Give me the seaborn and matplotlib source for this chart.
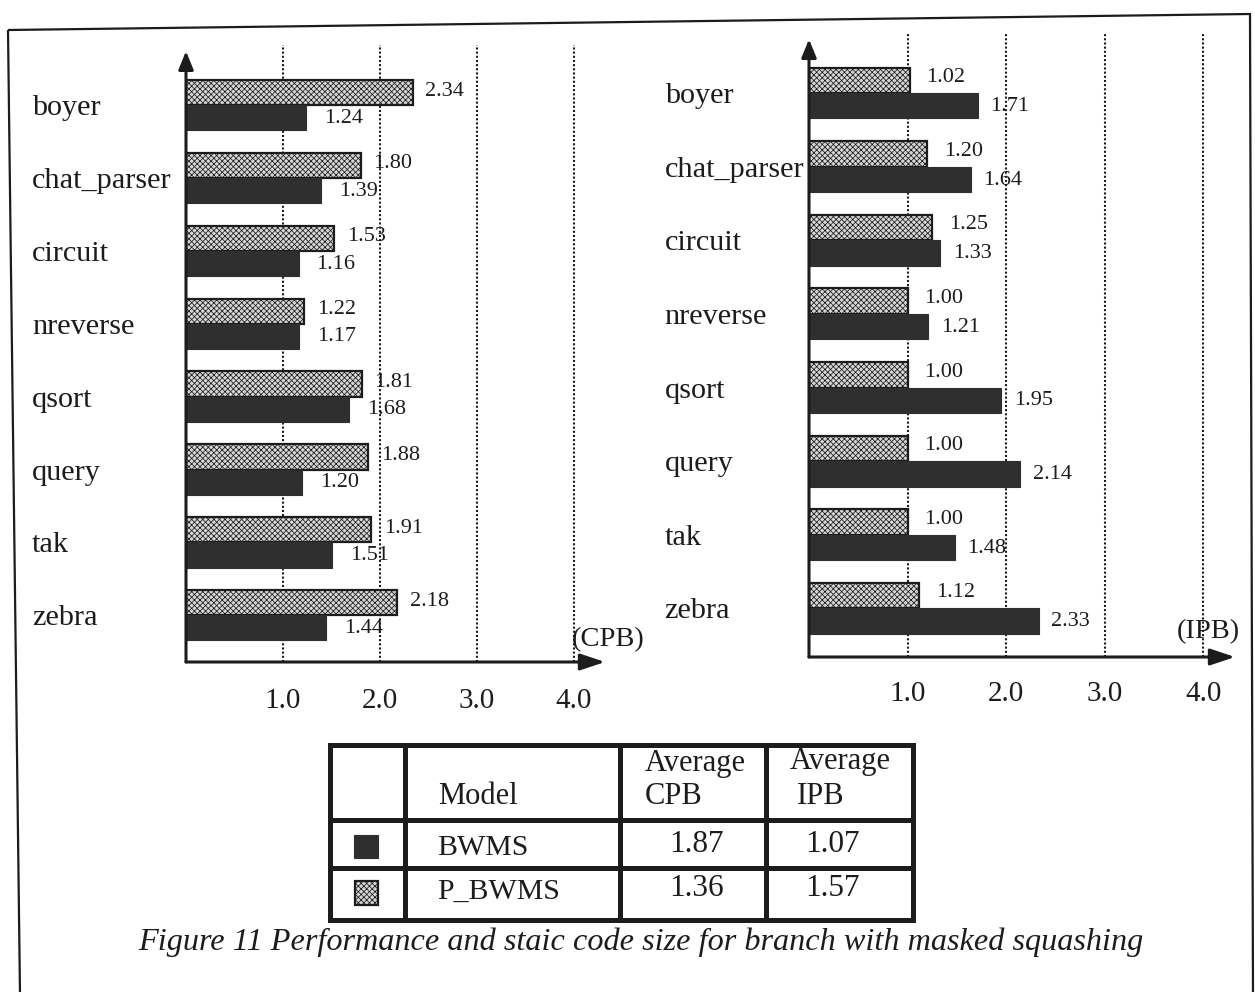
import matplotlib
matplotlib.use("Agg")
import matplotlib.pyplot as plt
from matplotlib.patches import Rectangle, Polygon
import pandas as pd
import seaborn as sns

# ---- data -------------------------------------------------------------
benchmarks = ["boyer", "chat_parser", "circuit", "nreverse",
              "qsort", "query", "tak", "zebra"]
cpb_p_bwms = [2.34, 1.80, 1.53, 1.22, 1.81, 1.88, 1.91, 2.18]
cpb_bwms = [1.24, 1.39, 1.16, 1.17, 1.68, 1.20, 1.51, 1.44]
ipb_p_bwms = [1.02, 1.20, 1.25, 1.00, 1.00, 1.00, 1.00, 1.12]
ipb_bwms = [1.71, 1.64, 1.33, 1.21, 1.95, 2.14, 1.48, 2.33]
tick_values = [1.0, 2.0, 3.0, 4.0]
tick_labels = ["1.0", "2.0", "3.0", "4.0"]
models = ["BWMS", "P_BWMS"]
avg_cpb = ["1.87", "1.36"]
avg_ipb = ["1.07", "1.57"]
caption = "Figure 11 Performance and staic code size for branch with masked squashing"

# ---- style ------------------------------------------------------------
sns.set_theme(style="white")
plt.rcParams["font.family"] = ["Liberation Serif", "DejaVu Serif"]
plt.rcParams["hatch.linewidth"] = 0.55
plt.rcParams["hatch.color"] = "#444444"

DARK = "#2f2f2f"
LIGHT = "#d6d6d6"
INK = "#1c1c1c"
HATCH = "xxxxxx"

W, H = 1255, 992
fig = plt.figure(figsize=(W / 100, H / 100), dpi=100)
fig.patch.set_facecolor("white")


def px_axes(x0, y0, x1, y1):
    """Axes placed by pixel box (top-left origin)."""
    return fig.add_axes([x0 / W, 1 - y1 / H, (x1 - x0) / W, (y1 - y0) / H])


def make_frame(values_top, values_bottom):
    rows = []
    for b, v in zip(benchmarks, values_top):
        rows.append({"bench": b, "model": "P_BWMS", "value": v})
    for b, v in zip(benchmarks, values_bottom):
        rows.append({"bench": b, "model": "BWMS", "value": v})
    return pd.DataFrame(rows)


def draw_panel(ax, df, ylim, label_pad, tick_pad, top_off, bot_off):
    sns.barplot(data=df, x="value", y="bench", hue="model",
                hue_order=["P_BWMS", "BWMS"], order=benchmarks,
                palette={"P_BWMS": LIGHT, "BWMS": DARK},
                saturation=1, width=0.69, orient="h", legend=False,
                errorbar=None, ax=ax)
    top_bars, bot_bars = ax.containers[0], ax.containers[1]
    for p in top_bars:
        p.set_hatch(HATCH)
        p.set_edgecolor(INK)
        p.set_linewidth(1.6)
    for p in bot_bars:
        p.set_edgecolor(DARK)
        p.set_linewidth(0.8)

    ax.set_xlim(0, 4.32)
    ax.set_ylim(*ylim)
    ax.set_xlabel("")
    ax.set_ylabel("")
    ax.set_xticks(tick_values)
    ax.set_xticklabels(tick_labels, fontsize=21, color=INK)
    ax.tick_params(axis="x", length=0, pad=tick_pad)
    ax.tick_params(axis="y", length=0, pad=label_pad)
    for t in ax.get_yticklabels():
        t.set_ha("left")
        t.set_fontsize(21.8)
        t.set_color(INK)
    for s in ax.spines.values():
        s.set_visible(False)
    ax.set_axisbelow(True)
    ax.grid(axis="x", color=INK, linestyle=(0, (1, 1)), linewidth=1.5)
    ax.grid(axis="y", visible=False)
    ax.patch.set_alpha(0)

    # axis arrows
    ax.annotate("", xy=(0, 0.99), xytext=(0, 0), xycoords="axes fraction",
                arrowprops=dict(arrowstyle="-|>,head_length=1.1,head_width=0.45",
                                mutation_scale=10, lw=2.2, color=INK,
                                shrinkA=0, shrinkB=0), annotation_clip=False)
    ax.annotate("", xy=(1.0, 0), xytext=(0, 0), xycoords="axes fraction",
                arrowprops=dict(arrowstyle="-|>,head_length=1.5,head_width=0.5",
                                mutation_scale=10, lw=2.2, color=INK,
                                shrinkA=0, shrinkB=0), annotation_clip=False)

    # value labels
    for p in top_bars:
        v = p.get_width()
        yc = p.get_y() + p.get_height() / 2
        ax.annotate(f"{v:.2f}", xy=(v, yc), xytext=top_off,
                    textcoords="offset points", va="center", ha="left",
                    fontsize=16, color=INK)
    for p in bot_bars:
        v = p.get_width()
        yc = p.get_y() + p.get_height() / 2
        ax.annotate(f"{v:.2f}", xy=(v, yc), xytext=bot_off,
                    textcoords="offset points", va="center", ha="left",
                    fontsize=16, color=INK)


# ---- left panel: cycles per branch -------------------------------------
ax_l = px_axes(186, 45, 605, 662)
draw_panel(ax_l, make_frame(cpb_p_bwms, cpb_bwms), (7.64, -0.823),
           label_pad=111, tick_pad=19, top_off=(9, 1), bot_off=(13, -0.5))

# ---- right panel: instructions per branch ------------------------------
ax_r = px_axes(809, 33, 1235, 657)
draw_panel(ax_r, make_frame(ipb_p_bwms, ipb_bwms), (7.66, -0.815),
           label_pad=104, tick_pad=17, top_off=(12, 2), bot_off=(9, -0.5))

# ---- overlay in pixel coordinates: border, unit labels, table, caption ---
ov = fig.add_axes([0, 0, 1, 1])
ov.set_xlim(0, W)
ov.set_ylim(H, 0)
ov.set_axis_off()
ov.patch.set_alpha(0)

ov.add_patch(Polygon([(8, 30), (1250, 14), (1253, 995), (20, 995)],
                     closed=True, fill=False, edgecolor=INK, lw=1.6))

ov.text(572, 640, "(CPB)", fontsize=20.5, va="center", ha="left", color=INK)
ov.text(1177, 632, "(IPB)", fontsize=20.5, va="center", ha="left", color=INK)

# summary table
tx0, tx1 = 330, 913
ty0, ty1 = 745, 920
col_x = [405, 620, 766]
row_y = [820, 868]
tlw = 3.6
ov.add_patch(Rectangle((tx0, ty0), tx1 - tx0, ty1 - ty0, fill=False,
                       edgecolor=INK, lw=tlw))
for cx in col_x:
    ov.plot([cx, cx], [ty0, ty1], color=INK, lw=tlw, solid_capstyle="butt")
for ry in row_y:
    ov.plot([tx0, tx1], [ry, ry], color=INK, lw=tlw, solid_capstyle="butt")

fs_h = 22
ov.text(438, 797, "Model", fontsize=fs_h, va="center", ha="left", color=INK)
ov.text(645, 763, "Average", fontsize=fs_h, va="center", ha="left", color=INK)
ov.text(645, 797, "CPB", fontsize=fs_h, va="center", ha="left", color=INK)
ov.text(790, 761, "Average", fontsize=fs_h, va="center", ha="left", color=INK)
ov.text(797, 797, "IPB", fontsize=fs_h, va="center", ha="left", color=INK)

row_centres = [846, 890]
for m, c, ip, yc in zip(models, avg_cpb, avg_ipb, row_centres):
    ov.text(437, yc + 2, m, fontsize=21.5, va="center", ha="left", color=INK)
    ov.text(697, yc - 1, c, fontsize=22.5, va="center", ha="center", color=INK)
    ov.text(832, yc - 2, ip, fontsize=22.5, va="center", ha="center", color=INK)

ov.add_patch(Rectangle((354, 835), 24, 23, facecolor=DARK, edgecolor=DARK, lw=0.8))
ov.add_patch(Rectangle((355, 881), 23, 24, facecolor=LIGHT, edgecolor=INK,
                       lw=1.6, hatch=HATCH))

ov.text(641, 942, caption, fontsize=23.2, style="italic", va="center",
        ha="center", color=INK)

fig.savefig("out.png", dpi=100, facecolor="white")
